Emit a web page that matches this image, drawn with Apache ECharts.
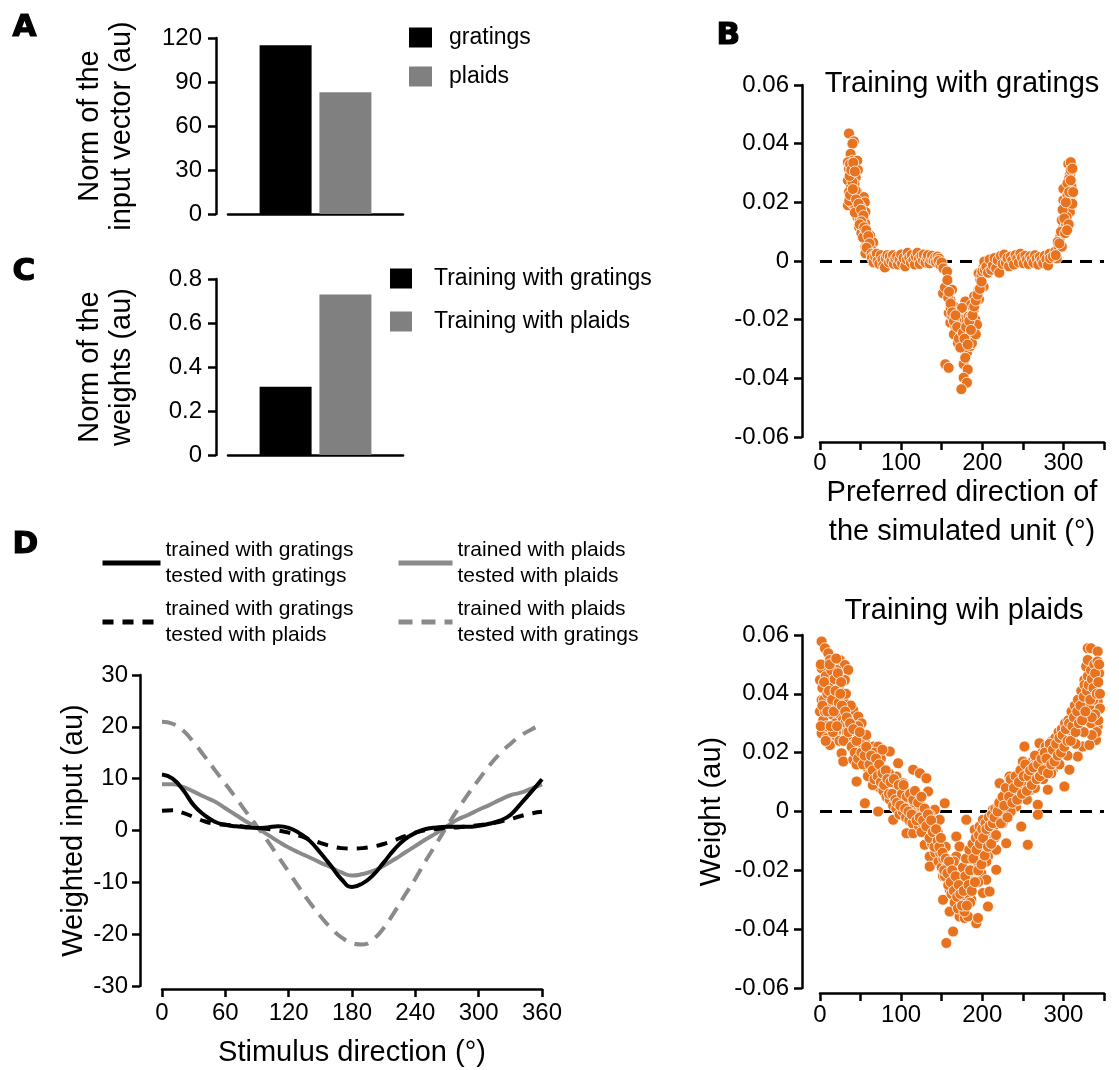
<!DOCTYPE html>
<html><head><meta charset="utf-8">
<script src="https://cdn.jsdelivr.net/npm/echarts@6/dist/echarts.min.js"></script>
<style>html,body{margin:0;padding:0;background:#fff}#c{width:1119px;height:1070px}</style>
</head><body><div id="c"></div>
<script>
const FONT = '"Liberation Sans", Arial, sans-serif';

// Panel A
const normCategory = ['norm'];
const inputNormNames = ['gratings', 'plaids'];
const inputNormValues = [115, 83];
// Panel C
const weightNormNames = ['Training with gratings', 'Training with plaids'];
const weightNormValues = [0.31, 0.73];

// Panel D
const stimulusDirections = [0,10,20,30,40,50,60,70,80,90,100,110,120,130,140,150,160,170,180,190,200,210,220,230,240,250,260,270,280,290,300,310,320,330,340,350,360];
const gratTrainGratTest = [10.8,10,7.8,4.9,3,1.7,1.1,0.8,0.6,0.5,0.6,0.8,0.5,-0.5,-2,-4.3,-6.8,-9.4,-10.9,-10.2,-8.6,-6.2,-3.7,-1.7,-0.5,0.3,0.6,0.7,0.7,0.7,0.9,1.3,1.9,3,5.2,7.5,9.9];
const plaidTrainPlaidTest = [8.9,8.9,8.4,7.5,6.5,5.6,4.3,3.0,1.7,0.5,-0.8,-2.1,-3.3,-4.3,-5.2,-6.2,-7.1,-8.1,-8.7,-8.4,-7.8,-6.8,-5.6,-4.3,-3.0,-1.7,-0.5,0.8,2.1,3.0,4.0,4.9,5.9,6.8,7.3,8.1,8.9];
const gratTrainPlaidTest = [3.8,3.9,3.4,2.6,1.8,1.3,1.1,0.9,0.7,0.5,0.3,0,-0.4,-1,-1.7,-2.4,-3,-3.4,-3.5,-3.4,-3.1,-2.6,-1.9,-1.1,-0.4,0.1,0.3,0.5,0.6,0.8,1.0,1.3,1.7,2.2,2.8,3.3,3.6];
const plaidTrainGratTest = [21,20.6,19.3,17,14.4,11.7,9,6.3,3.5,0.8,-2,-5,-8,-11,-13.9,-16.5,-18.8,-20.6,-21.7,-22,-21,-18.8,-15.8,-12.5,-9.3,-5.8,-2.5,0.8,4,7,9.8,12.5,14.8,16.7,18.3,19.5,20.5];
const dSeriesNames = [
  'trained with gratings\ntested with gratings',
  'trained with gratings\ntested with plaids',
  'trained with plaids\ntested with plaids',
  'trained with plaids\ntested with gratings'
];

// Panel B (top): weights after training with gratings [preferred direction, weight]
const gratingTrainedWeights = [
[35.7,0.0435],[41.8,0.0408],[40,0.040],[37.7,0.0365],[39.8,0.0342],[34.4,0.0337],[45.9,0.0342],[35.7,0.0314],[37,0.033],[46.7,0.031],
[44,0.0285],[34.4,0.0275],[42.6,0.0263],[38,0.025],[35.7,0.0235],[45.9,0.0235],[41,0.022],[34.4,0.019],[39.8,0.0195],[43,0.019],
[48,0.0207],[54,0.0218],[55.3,0.020],[50,0.0184],[47,0.017],[56,0.0167],[52,0.0162],[45.9,0.015],[49,0.014],[54,0.0139],
[48,0.0116],[52,0.0111],[55.7,0.0128],[51,0.0095],[56,0.0094],[58,0.0071],[62,0.0086],[65.6,0.0063],[56,0.0049],[59,0.0032],
[61.5,0.002],[56,0.0026],[58,0.006],[60,0.0045],[63,0.004],[53,0.008],[44,0.024],[36,0.0205],[40,0.027],[43,0.0165],
[36.5,0.029],[38.5,0.031],[41,0.0335],[43,0.0305],[37,0.0225],[40.5,0.0245],[44.5,0.021],[47.5,0.0195],[50.5,0.0175],[53.5,0.0155],
[51,0.0135],[49,0.0125],[54.5,0.0115],[57,0.0105],[59.5,0.0085],[61,0.006],[57.5,0.0045],[63.5,0.0025],[66.5,0.002],[69,0.0005],
[64,0.001],[66,-0.0005],[68,0.0015],[70,0.0025],[71,0],[73,-0.001],[75,0.002],[77,0.0005],[78,-0.0015],[80,-0.0022],
[81,0.001],[83,0.002],[85,-0.0005],[86,0.0015],[88,0],[90,0.002],[91,-0.001],[93,0.0008],[95,0.0015],[96,-0.0012],
[98,0.0005],[100,0.0022],[101,-0.0008],[103,0.001],[105,-0.0018],[107,0.0005],[108,0.0028],[110,0.0012],[112,-0.0006],[113,0.002],
[115,0.0003],[117,-0.0012],[118,0.0015],[120,0.0028],[122,0.0008],[123,-0.001],[125,0.0018],[127,0.0002],[128,0.0022],[130,-0.0005],
[132,0.0012],[133,0.002],[135,-0.0008],[137,0.0006],[138,0.0018],[140,0.0002],[142,0.0012],[143,-0.0004],[145,0.0015],[147,0.0008],
[146,0],[148.4,-0.0014],[150,-0.0005],[152,-0.0025],[156.6,-0.0036],[156.6,-0.007],[151.6,-0.011],[154,-0.009],[162.7,-0.0098],[160.7,-0.0132],
[158,-0.0125],[164.8,-0.0155],[158.6,-0.0177],[161,-0.016],[170.9,-0.0183],[160.7,-0.021],[163,-0.019],[166.8,-0.0223],[172.9,-0.0234],[177,-0.020],
[179.1,-0.0138],[183.2,-0.0189],[168.9,-0.0256],[165,-0.025],[175,-0.0279],[181.1,-0.0256],[185.2,-0.0245],[177,-0.030],[181.1,-0.0313],[170,-0.028],
[154.5,-0.0352],[158.6,-0.0364],[177,-0.0352],[182,-0.037],[177,-0.0398],[181.1,-0.0415],[174.2,-0.0437],[185.2,-0.029],[179,-0.033],[191.4,-0.020],
[189.3,-0.0166],[193.4,-0.0132],[195.5,-0.0098],[197.5,-0.0064],[195.5,-0.0042],[201.6,-0.0019],[202.5,-0.0002],[201.6,-0.0087],[187.3,-0.0211],[193.4,-0.0217],
[183,-0.0223],[187.3,-0.028],[190,-0.012],[186,-0.015],[192,-0.025],[168,-0.020],[174,-0.024],[175,-0.016],[186,-0.019],[196,-0.013],[199,-0.005],
[157,-0.0065],[159,-0.0105],[161,-0.0145],[163,-0.0175],[165,-0.0205],[167,-0.0185],[169,-0.0225],[171,-0.0265],[173,-0.0295],[176,-0.0245],
[178,-0.0265],[180,-0.0225],[182,-0.0285],[184,-0.0205],[186,-0.0235],[188,-0.0185],[190,-0.0155],[192,-0.0135],[194,-0.0115],[197,-0.0095],
[199,-0.007],[200,-0.0035],[203,-0.003],
[205,-0.002],[207,-0.004],[209,0.0005],[211,-0.003],[213,-0.0015],[215,0.001],[217,-0.0025],[219,0.0003],[221,-0.004],[223,0.0018],
[225,-0.001],[227,0.0022],[229,-0.0006],[231,0.001],[233,-0.0018],[235,0.0015],[237,0.0002],[239,-0.0012],[241,0.002],[243,0.0008],
[245,-0.0005],[247,0.0025],[249,0.0012],[251,-0.0008],[253,0.0018],[255,0.0004],[257,-0.001],[259,0.0016],[261,0.0006],[263,-0.0006],
[265,0.002],[267,0.0008],[269,-0.0012],[271,0.0014],[273,0.0003],[275,-0.0008],[277,0.0018],[279,0.0006],[281,-0.0015],[283,0.0025],
[283.6,0.0009],[289.8,0.0032],[294,0.0049],[291.8,0.0009],[287,0.0015],[296,0.0082],[300,0.0116],[298,0.0139],[302,0.0173],[300,0.0246],
[306,0.0167],[308.2,0.0207],[304,0.0184],[310,0.0252],[306,0.0331],[308.2,0.0297],[309,0.0337],[310,0.0229],[303,0.0128],[298,0.0049],
[300,0.0207],[308,0.0167],[305,0.0225],[307,0.028],[297,0.010],[302,0.0095],[309,0.031],[311,0.0195],[304,0.015],[293,0.0065],
[295,0.006],[299,0.0175],[301,0.0145],[303,0.02],[305,0.0265],[307,0.0235],[309,0.0275],[311,0.0315],[312,0.0235],[306.5,0.0125],
[304.5,0.0105],[290.5,0.002]
];

// Panel B (bottom): weights after training with plaids [preferred direction, weight]
const plaidTrainedWeights = [
[2,0.0578],[6.1,0.0555],[10.2,0.0538],[2,0.0487],[12.3,0.0515],[24.6,0.0515],[30.7,0.0498],[34.8,0.0481],[20.5,0.0481],[0,0.0447],
[8.2,0.0459],[16.4,0.0442],[30.7,0.0447],[2,0.0379],[12.3,0.0413],[20.5,0.0413],[26.6,0.039],[0,0.034],[10.2,0.0345],[30.7,0.0368],
[41,0.0345],[47.1,0.0323],[51.2,0.030],[2,0.0266],[8.2,0.0249],[12.3,0.0226],[20.5,0.0255],[28.7,0.0266],[34.8,0.0243],[26.6,0.0198],
[28.7,0.017],[41,0.0176],[45.1,0.0102],[49.2,0.0221],[57.4,0.0198],[57.4,0.0164],[55.3,0.0028],[65.6,0.0221],[71.7,0.0221],[86,0.0204],
[69.7,0.0125],[77.9,0.0142],[82,0.0119],[71.7,0.0],[86,0.0074],[90.2,-0.0028],[96.3,0.0164],[94.3,0.0119],[102.5,0.0096],[106.6,0.0062],
[106.6,-0.0074],[114.8,-0.0074],[114.8,0.0142],[123,0.013],[131.1,0.0113],[133.2,0.0068],[125,0.0051],[129,-0.0113],[135.2,-0.004],[141.4,0.0006],
[147.5,-0.0028],[153.7,0.0028],[135.2,-0.0153],[135.2,-0.0187],[143.4,-0.0108],[147.5,-0.0176],[151.6,-0.022],[151.6,-0.030],[159.8,-0.034],[155.7,-0.0447],
[164,-0.0408],[159.8,-0.0266],[164,-0.0215],[168,-0.0153],[168,-0.0085],[172,-0.0119],[176.2,-0.0266],[172,-0.0311],[172,-0.0357],[178.3,-0.0362],
[182.4,-0.0357],[180.3,-0.0028],[182.4,-0.0221],[186.5,-0.030],[192.6,-0.038],[194.7,-0.0362],[188.5,-0.0164],[190.6,-0.0062],[196.7,-0.0051],[194.7,-0.013],
[200.8,-0.0028],[198.8,-0.021],[200.8,-0.0277],[204.9,-0.0232],[207,-0.0323],[209,-0.0272],[207,-0.0153],[213,0.0006],[211,-0.0096],[217.2,-0.0198],
[217.2,-0.013],[221.3,0.0096],[221.3,-0.004],[225.4,0.0028],[229.5,-0.0108],[231.6,0.0051],[233.6,0.0119],[237.7,0.0074],[241.8,0.0017],[245.9,0.0096],
[250,0.0153],[248,-0.0051],[252,0.0221],[250,0.017],[256.1,-0.0113],[256.1,0.0119],[260.2,0.0074],[264.3,0.0142],[270.5,0.0232],[268.4,0.0023],
[268.4,-0.0011],[274.6,0.0164],[280.7,0.0074],[282.8,0.0187],[287,0.0142],[289,0.0221],[293.1,0.0164],[299.2,0.0221],[301.2,0.0085],[297.1,0.0266],
[303.3,0.0255],[307.4,0.0289],[307.4,0.0142],[311.5,0.0323],[315.6,0.0277],[317.6,0.0187],[319.7,0.0362],[323.8,0.0221],[325.8,0.0311],[323.8,0.0402],
[325.8,0.0447],[328,0.0493],[330,0.0555],[334,0.0555],[330,0.0515],[336.1,0.047],[342.2,0.0544],[342.2,0.0442],[340.2,0.0408],[338.1,0.0345],
[342.2,0.0289],[340.2,0.0243],[332,0.0226],[342.2,0.0374],[334,0.030],[332,0.039],
[3,0.042],[5,0.038],[7,0.046],[9,0.04],[11,0.036],[13,0.044],[15,0.033],[17,0.039],[19,0.03],[21,0.036],
[23,0.042],[25,0.033],[27,0.028],[29,0.035],[1,0.05],[4,0.031],[8,0.029],[14,0.048],[18,0.045],[22,0.047],
[26,0.044],[24,0.024],[28,0.031],[31,0.03],[33,0.027],[35,0.031],[37,0.025],[39,0.029],[42,0.023],[44,0.027],
[46,0.021],[48,0.025],[50,0.019],[52,0.023],[54,0.017],[56,0.021],[58,0.015],[60,0.019],[62,0.013],[64,0.017],
[66,0.012],[68,0.016],[70,0.010],[72,0.014],[74,0.008],[76,0.013],[78,0.007],[80,0.011],[82,0.005],[84,0.009],
[86,0.004],[88,0.008],[90,0.002],[92,0.007],[94,0.001],[96,0.005],[98,-0.001],[100,0.004],[102,0.0],[104,0.003],
[106,-0.002],[108,0.002],[110,-0.003],[112,0.001],[114,-0.004],[116,0.003],[118,-0.002],[120,0.0],[122,-0.005],[124,0.002],
[126,-0.004],[128,-0.001],[130,-0.006],[132,-0.003],[134,-0.008],[136,-0.006],[138,-0.011],[140,-0.009],[142,-0.014],[144,-0.012],
[146,-0.017],[148,-0.014],[150,-0.019],[152,-0.016],[154,-0.022],[156,-0.019],[158,-0.025],[160,-0.021],[162,-0.028],[164,-0.024],
[166,-0.031],[168,-0.026],[170,-0.033],[172,-0.022],[174,-0.03],[176,-0.019],[178,-0.034],[180,-0.016],[182,-0.028],[184,-0.013],
[186,-0.024],[188,-0.011],[190,-0.02],[192,-0.009],[194,-0.017],[196,-0.008],[198,-0.014],[200,-0.006],[202,-0.012],[204,-0.004],
[206,-0.01],[208,-0.002],[210,-0.007],[212,-0.001],[214,-0.005],[216,0.001],[218,-0.003],[220,0.002],[222,-0.001],[224,0.004],
[226,0.0],[228,0.006],[230,0.002],[232,0.008],[234,0.003],[236,0.009],[238,0.005],[240,0.010],[242,0.006],[244,0.012],
[246,0.008],[248,0.013],[250,0.009],[252,0.011],[254,0.014],[256,0.009],[258,0.016],[260,0.011],[262,0.017],[264,0.012],
[266,0.018],[268,0.014],[270,0.019],[272,0.015],[274,0.020],[276,0.017],[278,0.022],[280,0.016],[282,0.021],[284,0.018],
[286,0.024],[288,0.019],[290,0.025],[292,0.021],[294,0.027],[296,0.022],[298,0.028],[300,0.024],[302,0.030],[304,0.025],
[306,0.031],[308,0.027],[310,0.034],[312,0.028],[314,0.036],[316,0.031],[318,0.038],[320,0.033],[322,0.041],[324,0.035],
[326,0.043],[328,0.038],[330,0.046],[332,0.036],[334,0.048],[336,0.04],[338,0.05],[340,0.044],[342,0.051],[344,0.047],
[345,0.035],[343,0.031],[341,0.027],[339,0.033],[337,0.038],[335,0.026],
[45,0.016],[55,0.024],[65,0.009],[75,0.018],[85,0.013],[95,0.008],[105,0.007],[115,-0.001],[125,-0.007],[135,-0.001],
[145,-0.007],[155,-0.012],[165,-0.017],[175,-0.025],[185,-0.031],[195,-0.024],[205,-0.017],[215,-0.009],[225,-0.004],[235,0.0],
[245,0.004],[255,0.004],[265,0.008],[275,0.011],[285,0.013],[295,0.016],[305,0.019],[315,0.023],[325,0.027],[335,0.032],
[12,0.05],[20,0.052],[6,0.034],[16,0.027],[32,0.04],[38,0.036],[47,0.029],[57,0.026],[67,0.02],[77,0.021],
[1,0.029],[3,0.036],[5,0.044],[7,0.024],[9,0.034],[11,0.041],[13,0.029],[15,0.038],[17,0.034],[19,0.041],
[21,0.029],[23,0.037],[25,0.04],[27,0.036],[29,0.024],[31,0.034],[33,0.032],[35,0.027],[37,0.03],[39,0.022],
[41,0.028],[43,0.02],[45,0.024],[47,0.018],[49,0.027],[51,0.02],[53,0.016],[55,0.019],[57,0.022],[59,0.012],
[61,0.016],[63,0.019],[65,0.014],[67,0.011],[69,0.018],[71,0.012],[73,0.016],[75,0.01],[77,0.013],[79,0.009],
[81,0.014],[83,0.011],[85,0.006],[87,0.01],[89,0.006],[91,0.011],[93,0.004],[95,0.003],[97,0.009],[99,0.002],
[101,0.006],[103,0.009],[105,0.001],[107,0.005],[109,0.0],[111,0.006],[113,-0.001],[115,0.004],[117,0.007],[119,-0.003],
[121,0.003],[123,-0.002],[125,0.005],[127,-0.003],[129,0.001],
[131,-0.005],[133,-0.001],[135,-0.009],[137,-0.003],[139,-0.007],[141,-0.012],[143,-0.006],[145,-0.01],[147,-0.012],[149,-0.009],
[151,-0.014],[153,-0.02],[155,-0.016],[157,-0.021],[159,-0.017],[161,-0.024],[163,-0.02],[165,-0.027],[167,-0.022],[169,-0.029],
[171,-0.025],[173,-0.028],[175,-0.032],[177,-0.027],[179,-0.022],[181,-0.032],[183,-0.025],[185,-0.02],[187,-0.027],[189,-0.016],
[191,-0.024],[193,-0.013],[195,-0.02],[197,-0.011],[199,-0.018],[201,-0.009],[203,-0.015],[205,-0.006],[207,-0.012],[209,-0.005],
[211,-0.011],[213,-0.004],[215,-0.002],[217,-0.008],[219,0.0],[221,0.003],[223,-0.004],[225,0.005],[227,0.002],[229,0.008],
[231,-0.002],[233,0.005],[235,0.011],[237,0.003],[239,0.008],[241,0.012],[243,0.004],[245,0.01],[247,0.014],[249,0.006],
[251,0.012],[253,0.016],[255,0.007],[257,0.012],[259,0.014],[261,0.009],[263,0.015],[265,0.019],[267,0.011],[269,0.016],
[271,0.012],[273,0.018],[275,0.014],[277,0.02],[279,0.018],[281,0.013],[283,0.023],[285,0.016],[287,0.021],[289,0.017],
[291,0.023],[293,0.019],[295,0.025],[297,0.02],[299,0.026],[301,0.022],[303,0.028],[305,0.024],[307,0.03],[309,0.024],
[311,0.029],[313,0.032],[315,0.027],[317,0.034],[319,0.03],[321,0.036],[323,0.031],[325,0.039],[327,0.034],[329,0.041],
[331,0.043],[333,0.038],[335,0.045],[337,0.042],[339,0.047],[341,0.04],[343,0.044],[344,0.05],[345,0.04]
];

const BLACK = '#000000', GRAY = '#808080', LGRAY = '#8a8a8a', ORANGE = '#E8731E';
const axisLine = {show: true, onZero: false, lineStyle: {color: BLACK, width: 2.5}};
const tick = {show: true, length: 8, lineStyle: {color: BLACK, width: 2.5}};
const tickLabel = (margin) => ({color: BLACK, fontSize: 24, fontFamily: FONT, margin});
const nameStyle = {color: BLACK, fontSize: 29, fontFamily: FONT, lineHeight: 32};

function pairs(xs, ys) { return xs.map((x, i) => [x, ys[i]]); }

const letterStyle = (t) => ({text: t, fontSize: 31, fontWeight: 900, fontFamily: '"DejaVu Sans"', fill: BLACK, stroke: BLACK, lineWidth: 1.2});

const option = {
  animation: false,
  backgroundColor: '#ffffff',
  textStyle: {fontFamily: FONT},
  grid: [
    {left: 228, top: 38, width: 175, height: 176},
    {left: 228, top: 279, width: 175, height: 176},
    {left: 820, top: 85, width: 284, height: 352},
    {left: 820, top: 635, width: 284, height: 353},
    {left: 162, top: 675, width: 380, height: 315}
  ],
  xAxis: [
    {type: 'category', gridIndex: 0, data: normCategory, axisLine, axisTick: {show: false}, axisLabel: {show: false}},
    {type: 'category', gridIndex: 1, data: normCategory, axisLine, axisTick: {show: false}, axisLabel: {show: false}},
    {type: 'value', gridIndex: 2, min: 0, max: 350, interval: 50, offset: 5, axisLine, axisTick: tick,
     axisLabel: Object.assign(tickLabel(9), {formatter: v => (v % 100 === 0 ? String(v) : '')}), splitLine: {show: false},
     name: 'Preferred direction of\nthe simulated unit (°)', nameLocation: 'middle', nameGap: 31, nameMoveOverlap: false,
     nameTextStyle: Object.assign({}, nameStyle, {lineHeight: 39})},
    {type: 'value', gridIndex: 3, min: 0, max: 350, interval: 50, offset: 5, axisLine, axisTick: tick,
     axisLabel: Object.assign(tickLabel(10), {formatter: v => (v % 100 === 0 ? String(v) : '')}), splitLine: {show: false}},
    {type: 'value', gridIndex: 4, min: 0, max: 360, interval: 60, offset: 3, axisLine, axisTick: tick,
     axisLabel: tickLabel(12), splitLine: {show: false},
     name: 'Stimulus direction (°)', nameLocation: 'middle', nameGap: 48, nameMoveOverlap: false, nameTextStyle: nameStyle}
  ],
  yAxis: [
    {type: 'value', gridIndex: 0, min: 0, max: 120, interval: 30, offset: 12, axisLine, axisTick: tick,
     axisLabel: tickLabel(14), splitLine: {show: false},
     name: 'Norm of the\ninput vector (au)', nameLocation: 'middle', nameGap: 78, nameMoveOverlap: false, nameTextStyle: nameStyle},
    {type: 'value', gridIndex: 1, min: 0, max: 0.8, interval: 0.2, offset: 12, axisLine, axisTick: tick,
     axisLabel: tickLabel(14), splitLine: {show: false},
     name: 'Norm of the\nweights (au)', nameLocation: 'middle', nameGap: 78, nameMoveOverlap: false, nameTextStyle: nameStyle},
    {type: 'value', gridIndex: 2, min: -0.06, max: 0.06, interval: 0.02, offset: 18, axisLine, axisTick: tick,
     axisLabel: tickLabel(13), splitLine: {show: false}},
    {type: 'value', gridIndex: 3, min: -0.06, max: 0.06, interval: 0.02, offset: 18, axisLine, axisTick: tick,
     axisLabel: tickLabel(13), splitLine: {show: false},
     name: 'Weight (au)', nameLocation: 'middle', nameGap: 74, nameMoveOverlap: false, nameTextStyle: nameStyle},
    {type: 'value', gridIndex: 4, min: -30, max: 30, interval: 10, offset: 22, axisLine, axisTick: tick,
     axisLabel: tickLabel(12), splitLine: {show: false},
     name: 'Weighted input (au)', nameLocation: 'middle', nameGap: 50, nameMoveOverlap: false, nameTextStyle: nameStyle}
  ],
  legend: [
    {data: inputNormNames, orient: 'vertical', left: 409, top: 26, padding: 0, itemWidth: 23, itemHeight: 20, itemGap: 16,
     icon: 'rect', selectedMode: false, textStyle: {fontSize: 23, fontFamily: FONT, color: BLACK, lineHeight: 20, padding: [0,0,0,12]}},
    {data: weightNormNames, orient: 'vertical', left: 390, top: 267, padding: 0, itemWidth: 22, itemHeight: 20, itemGap: 20,
     icon: 'rect', selectedMode: false, textStyle: {fontSize: 23, fontFamily: FONT, color: BLACK, lineHeight: 20, padding: [0,0,0,17]}},
    {data: [dSeriesNames[0], dSeriesNames[1]], orient: 'vertical', left: 100, top: 537, padding: 0, itemWidth: 58, itemHeight: 10, itemGap: 7,
     selectedMode: false, itemStyle: {color: 'rgba(0,0,0,0)', borderWidth: 0, opacity: 0}, lineStyle: {width: 5},
     textStyle: {fontSize: 21, fontFamily: FONT, color: BLACK, lineHeight: 26}},
    {data: [dSeriesNames[2], dSeriesNames[3]], orient: 'vertical', left: 396, top: 537, padding: 0, itemWidth: 54, itemHeight: 10, itemGap: 7,
     selectedMode: false, itemStyle: {color: 'rgba(0,0,0,0)', borderWidth: 0, opacity: 0}, lineStyle: {width: 5},
     textStyle: {fontSize: 21, fontFamily: FONT, color: BLACK, lineHeight: 26}}
  ],
  graphic: [
    {type: 'text', left: 12, top: 12, style: letterStyle('A')},
    {type: 'text', left: 716, top: 20, style: letterStyle('B')},
    {type: 'text', left: 12, top: 256, style: letterStyle('C')},
    {type: 'text', left: 12, top: 529, style: letterStyle('D')},
    {type: 'text', x: 962, y: 84, style: {text: 'Training with gratings', fontSize: 29, fontFamily: FONT, fill: BLACK, align: 'center', verticalAlign: 'middle'}},
    {type: 'text', x: 964, y: 611, style: {text: 'Training wih plaids', fontSize: 29, fontFamily: FONT, fill: BLACK, align: 'center', verticalAlign: 'middle'}}
  ],
  series: [
    {type: 'bar', name: inputNormNames[0], xAxisIndex: 0, yAxisIndex: 0, data: [inputNormValues[0]], barWidth: 52, barGap: '15%', itemStyle: {color: BLACK}},
    {type: 'bar', name: inputNormNames[1], xAxisIndex: 0, yAxisIndex: 0, data: [inputNormValues[1]], barWidth: 52, barGap: '15%', itemStyle: {color: GRAY}},
    {type: 'bar', name: weightNormNames[0], xAxisIndex: 1, yAxisIndex: 1, data: [weightNormValues[0]], barWidth: 52, barGap: '15%', itemStyle: {color: BLACK}},
    {type: 'bar', name: weightNormNames[1], xAxisIndex: 1, yAxisIndex: 1, data: [weightNormValues[1]], barWidth: 52, barGap: '15%', itemStyle: {color: GRAY}},
    {type: 'line', name: 'zero-top', xAxisIndex: 2, yAxisIndex: 2, data: [], z: 1,
     markLine: {silent: true, z: 1, symbol: ['none', 'none'], label: {show: false}, lineStyle: {color: BLACK, width: 3, type: [12, 8]}, data: [{yAxis: 0}]}},
    {type: 'scatter', name: 'weights-gratings', xAxisIndex: 2, yAxisIndex: 2, data: gratingTrainedWeights, z: 3,
     symbolSize: 11, itemStyle: {color: ORANGE, borderColor: '#ffffff', borderWidth: 0.8, opacity: 1}},
    {type: 'line', name: 'zero-bottom', xAxisIndex: 3, yAxisIndex: 3, data: [], z: 1,
     markLine: {silent: true, z: 1, symbol: ['none', 'none'], label: {show: false}, lineStyle: {color: BLACK, width: 3, type: [12, 8]}, data: [{yAxis: 0}]}},
    {type: 'scatter', name: 'weights-plaids', xAxisIndex: 3, yAxisIndex: 3, data: plaidTrainedWeights, z: 3,
     symbolSize: 11, itemStyle: {color: ORANGE, borderColor: '#ffffff', borderWidth: 0.8, opacity: 1}},
    {type: 'line', name: dSeriesNames[3], xAxisIndex: 4, yAxisIndex: 4, data: pairs(stimulusDirections, plaidTrainGratTest), smooth: true, symbol: 'none',
     lineStyle: {color: LGRAY, width: 4, type: [14, 9]}, itemStyle: {color: LGRAY}},
    {type: 'line', name: dSeriesNames[2], xAxisIndex: 4, yAxisIndex: 4, data: pairs(stimulusDirections, plaidTrainPlaidTest), smooth: true, symbol: 'none',
     lineStyle: {color: LGRAY, width: 4, type: 'solid'}, itemStyle: {color: LGRAY}},
    {type: 'line', name: dSeriesNames[1], xAxisIndex: 4, yAxisIndex: 4, data: pairs(stimulusDirections, gratTrainPlaidTest), smooth: true, symbol: 'none',
     lineStyle: {color: BLACK, width: 4, type: [11, 9]}, itemStyle: {color: BLACK}},
    {type: 'line', name: dSeriesNames[0], xAxisIndex: 4, yAxisIndex: 4, data: pairs(stimulusDirections, gratTrainGratTest), smooth: true, symbol: 'none',
     lineStyle: {color: BLACK, width: 4, type: 'solid'}, itemStyle: {color: BLACK}}
  ]
};
const chart = echarts.init(document.getElementById('c'), null, {renderer: 'canvas'});
chart.setOption(option);
</script>
</body></html>
